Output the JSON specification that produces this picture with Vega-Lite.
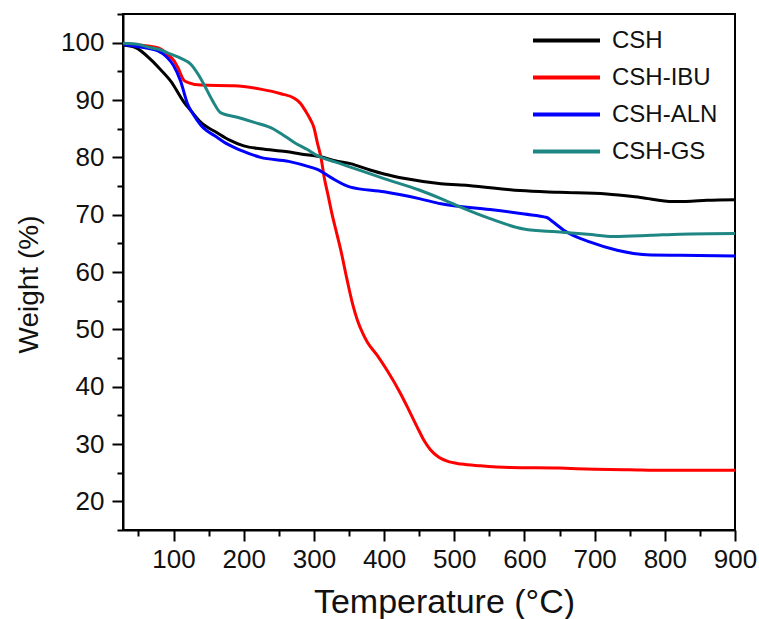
{
  "$schema": "https://vega.github.io/schema/vega-lite/v6.json",
  "width": 612,
  "height": 516,
  "autosize": {"type": "none"},
  "padding": {"left": 123, "top": 14, "right": 24, "bottom": 89},
  "background": "white",
  "config": {
    "view": {"stroke": "black", "strokeWidth": 2},
    "axis": {
      "grid": false,
      "domainColor": "black",
      "domainWidth": 2,
      "tickColor": "black",
      "tickWidth": 2,
      "labelFont": "Liberation Sans",
      "labelColor": "#111",
      "titleFont": "Liberation Sans",
      "titleFontWeight": "normal",
      "titleColor": "#111"
    },
    "legend": {
      "labelFont": "Liberation Sans",
      "labelFontSize": 24,
      "labelColor": "#111"
    }
  },
  "data": {
    "values": [
      {"T": 28, "W": 99.6, "s": "CSH"},
      {"T": 45, "W": 99.2, "s": "CSH"},
      {"T": 68, "W": 97.0, "s": "CSH"},
      {"T": 80, "W": 95.5, "s": "CSH"},
      {"T": 96, "W": 93.3, "s": "CSH"},
      {"T": 115, "W": 89.6, "s": "CSH"},
      {"T": 125, "W": 88.1, "s": "CSH"},
      {"T": 139, "W": 86.1, "s": "CSH"},
      {"T": 162, "W": 84.3, "s": "CSH"},
      {"T": 180, "W": 83.0, "s": "CSH"},
      {"T": 200, "W": 82.0, "s": "CSH"},
      {"T": 224, "W": 81.5, "s": "CSH"},
      {"T": 260, "W": 81.0, "s": "CSH"},
      {"T": 281, "W": 80.6, "s": "CSH"},
      {"T": 314, "W": 80.0, "s": "CSH"},
      {"T": 330, "W": 79.4, "s": "CSH"},
      {"T": 352, "W": 78.9, "s": "CSH"},
      {"T": 380, "W": 77.8, "s": "CSH"},
      {"T": 400, "W": 77.1, "s": "CSH"},
      {"T": 430, "W": 76.3, "s": "CSH"},
      {"T": 481, "W": 75.4, "s": "CSH"},
      {"T": 520, "W": 75.1, "s": "CSH"},
      {"T": 594, "W": 74.2, "s": "CSH"},
      {"T": 650, "W": 73.9, "s": "CSH"},
      {"T": 717, "W": 73.6, "s": "CSH"},
      {"T": 765, "W": 73.0, "s": "CSH"},
      {"T": 812, "W": 72.3, "s": "CSH"},
      {"T": 830, "W": 72.3, "s": "CSH"},
      {"T": 860, "W": 72.5, "s": "CSH"},
      {"T": 900, "W": 72.6, "s": "CSH"},

      {"T": 28, "W": 99.8, "s": "CSH-IBU"},
      {"T": 50, "W": 99.6, "s": "CSH-IBU"},
      {"T": 70, "W": 99.3, "s": "CSH-IBU"},
      {"T": 82, "W": 98.9, "s": "CSH-IBU"},
      {"T": 91, "W": 98.0, "s": "CSH-IBU"},
      {"T": 101, "W": 96.8, "s": "CSH-IBU"},
      {"T": 106, "W": 95.7, "s": "CSH-IBU"},
      {"T": 115, "W": 93.4, "s": "CSH-IBU"},
      {"T": 122, "W": 93.0, "s": "CSH-IBU"},
      {"T": 139, "W": 92.6, "s": "CSH-IBU"},
      {"T": 186, "W": 92.5, "s": "CSH-IBU"},
      {"T": 224, "W": 91.9, "s": "CSH-IBU"},
      {"T": 253, "W": 91.1, "s": "CSH-IBU"},
      {"T": 272, "W": 90.3, "s": "CSH-IBU"},
      {"T": 281, "W": 89.4, "s": "CSH-IBU"},
      {"T": 288, "W": 88.1, "s": "CSH-IBU"},
      {"T": 295, "W": 86.6, "s": "CSH-IBU"},
      {"T": 300, "W": 85.2, "s": "CSH-IBU"},
      {"T": 305, "W": 82.5, "s": "CSH-IBU"},
      {"T": 310, "W": 80.0, "s": "CSH-IBU"},
      {"T": 315, "W": 76.3, "s": "CSH-IBU"},
      {"T": 320, "W": 73.5, "s": "CSH-IBU"},
      {"T": 326, "W": 70.0, "s": "CSH-IBU"},
      {"T": 332, "W": 67.0, "s": "CSH-IBU"},
      {"T": 338, "W": 64.0, "s": "CSH-IBU"},
      {"T": 347, "W": 58.8, "s": "CSH-IBU"},
      {"T": 355, "W": 54.5, "s": "CSH-IBU"},
      {"T": 362, "W": 51.6, "s": "CSH-IBU"},
      {"T": 370, "W": 49.2, "s": "CSH-IBU"},
      {"T": 376, "W": 47.8, "s": "CSH-IBU"},
      {"T": 390, "W": 45.5, "s": "CSH-IBU"},
      {"T": 404, "W": 42.9, "s": "CSH-IBU"},
      {"T": 423, "W": 38.9, "s": "CSH-IBU"},
      {"T": 435, "W": 36.0, "s": "CSH-IBU"},
      {"T": 447, "W": 33.0, "s": "CSH-IBU"},
      {"T": 457, "W": 30.6, "s": "CSH-IBU"},
      {"T": 466, "W": 29.0, "s": "CSH-IBU"},
      {"T": 478, "W": 27.7, "s": "CSH-IBU"},
      {"T": 490, "W": 27.0, "s": "CSH-IBU"},
      {"T": 510, "W": 26.5, "s": "CSH-IBU"},
      {"T": 537, "W": 26.2, "s": "CSH-IBU"},
      {"T": 580, "W": 25.9, "s": "CSH-IBU"},
      {"T": 650, "W": 25.8, "s": "CSH-IBU"},
      {"T": 700, "W": 25.6, "s": "CSH-IBU"},
      {"T": 750, "W": 25.5, "s": "CSH-IBU"},
      {"T": 800, "W": 25.4, "s": "CSH-IBU"},
      {"T": 850, "W": 25.4, "s": "CSH-IBU"},
      {"T": 900, "W": 25.4, "s": "CSH-IBU"},

      {"T": 28, "W": 99.7, "s": "CSH-ALN"},
      {"T": 50, "W": 99.3, "s": "CSH-ALN"},
      {"T": 77, "W": 98.6, "s": "CSH-ALN"},
      {"T": 91, "W": 97.4, "s": "CSH-ALN"},
      {"T": 100, "W": 96.0, "s": "CSH-ALN"},
      {"T": 110, "W": 93.3, "s": "CSH-ALN"},
      {"T": 120, "W": 89.3, "s": "CSH-ALN"},
      {"T": 128, "W": 87.5, "s": "CSH-ALN"},
      {"T": 139, "W": 85.6, "s": "CSH-ALN"},
      {"T": 162, "W": 83.5, "s": "CSH-ALN"},
      {"T": 177, "W": 82.3, "s": "CSH-ALN"},
      {"T": 196, "W": 81.2, "s": "CSH-ALN"},
      {"T": 224, "W": 80.0, "s": "CSH-ALN"},
      {"T": 264, "W": 79.3, "s": "CSH-ALN"},
      {"T": 295, "W": 78.3, "s": "CSH-ALN"},
      {"T": 305, "W": 77.9, "s": "CSH-ALN"},
      {"T": 324, "W": 76.5, "s": "CSH-ALN"},
      {"T": 352, "W": 74.8, "s": "CSH-ALN"},
      {"T": 400, "W": 74.0, "s": "CSH-ALN"},
      {"T": 450, "W": 72.8, "s": "CSH-ALN"},
      {"T": 481, "W": 71.9, "s": "CSH-ALN"},
      {"T": 551, "W": 70.9, "s": "CSH-ALN"},
      {"T": 600, "W": 70.1, "s": "CSH-ALN"},
      {"T": 632, "W": 69.5, "s": "CSH-ALN"},
      {"T": 640, "W": 68.8, "s": "CSH-ALN"},
      {"T": 656, "W": 67.3, "s": "CSH-ALN"},
      {"T": 694, "W": 65.2, "s": "CSH-ALN"},
      {"T": 732, "W": 63.8, "s": "CSH-ALN"},
      {"T": 774, "W": 63.0, "s": "CSH-ALN"},
      {"T": 822, "W": 62.9, "s": "CSH-ALN"},
      {"T": 900, "W": 62.8, "s": "CSH-ALN"},

      {"T": 28, "W": 99.9, "s": "CSH-GS"},
      {"T": 50, "W": 99.7, "s": "CSH-GS"},
      {"T": 68, "W": 99.1, "s": "CSH-GS"},
      {"T": 80, "W": 98.8, "s": "CSH-GS"},
      {"T": 96, "W": 98.0, "s": "CSH-GS"},
      {"T": 110, "W": 97.3, "s": "CSH-GS"},
      {"T": 125, "W": 96.2, "s": "CSH-GS"},
      {"T": 135, "W": 94.5, "s": "CSH-GS"},
      {"T": 143, "W": 92.8, "s": "CSH-GS"},
      {"T": 155, "W": 90.0, "s": "CSH-GS"},
      {"T": 167, "W": 87.8, "s": "CSH-GS"},
      {"T": 191, "W": 87.0, "s": "CSH-GS"},
      {"T": 215, "W": 86.1, "s": "CSH-GS"},
      {"T": 243, "W": 84.9, "s": "CSH-GS"},
      {"T": 255, "W": 84.0, "s": "CSH-GS"},
      {"T": 272, "W": 82.6, "s": "CSH-GS"},
      {"T": 290, "W": 81.4, "s": "CSH-GS"},
      {"T": 305, "W": 80.3, "s": "CSH-GS"},
      {"T": 330, "W": 79.2, "s": "CSH-GS"},
      {"T": 352, "W": 78.3, "s": "CSH-GS"},
      {"T": 400, "W": 76.3, "s": "CSH-GS"},
      {"T": 450, "W": 74.3, "s": "CSH-GS"},
      {"T": 481, "W": 72.8, "s": "CSH-GS"},
      {"T": 509, "W": 71.3, "s": "CSH-GS"},
      {"T": 551, "W": 69.3, "s": "CSH-GS"},
      {"T": 599, "W": 67.5, "s": "CSH-GS"},
      {"T": 646, "W": 67.0, "s": "CSH-GS"},
      {"T": 690, "W": 66.6, "s": "CSH-GS"},
      {"T": 727, "W": 66.2, "s": "CSH-GS"},
      {"T": 780, "W": 66.4, "s": "CSH-GS"},
      {"T": 822, "W": 66.6, "s": "CSH-GS"},
      {"T": 900, "W": 66.7, "s": "CSH-GS"}
    ]
  },
  "mark": {"type": "line", "strokeWidth": 3, "interpolate": "monotone", "clip": true},
  "encoding": {
    "x": {
      "field": "T",
      "type": "quantitative",
      "scale": {"domain": [28, 900], "nice": false, "zero": false},
      "axis": {
        "title": "Temperature (°C)",
        "titleFontSize": 34,
        "labelFontSize": 26,
        "values": [50, 100, 150, 200, 250, 300, 350, 400, 450, 500, 550, 600, 650, 700, 750, 800, 850, 900],
        "labelExpr": "datum.value % 100 === 0 ? datum.label : ''",
        "tickSize": {"condition": {"test": "datum.value % 100 === 0", "value": 11}, "value": 6},
        "labelPadding": 5,
        "labelFlush": false,
        "labelOverlap": false,
        "titleX": 321,
        "titleY": 82,
        "titleBaseline": "alphabetic",
        "titleAnchor": "middle",
        "titleAlign": "center"
      }
    },
    "y": {
      "field": "W",
      "type": "quantitative",
      "scale": {"domain": [15, 105], "nice": false, "zero": false},
      "axis": {
        "title": "Weight (%)",
        "titleFontSize": 28,
        "labelFontSize": 26,
        "values": [15, 20, 25, 30, 35, 40, 45, 50, 55, 60, 65, 70, 75, 80, 85, 90, 95, 100, 105],
        "labelExpr": "datum.value % 10 === 0 ? datum.label : ''",
        "tickSize": {"condition": {"test": "datum.value % 10 === 0", "value": 11}, "value": 6},
        "labelPadding": 8,
        "labelFlush": false,
        "labelOverlap": false,
        "titleX": -94,
        "titleY": 270,
        "titleAlign": "center",
        "titleBaseline": "middle",
        "titleAngle": -90
      }
    },
    "color": {
      "field": "s",
      "type": "nominal",
      "sort": ["CSH", "CSH-IBU", "CSH-ALN", "CSH-GS"],
      "scale": {"domain": ["CSH", "CSH-IBU", "CSH-ALN", "CSH-GS"], "range": ["#000000", "#ff0000", "#0000ff", "#1e8783"]},
      "legend": {
        "title": null,
        "orient": "none",
        "legendX": 408,
        "legendY": 8,
        "symbolType": "stroke",
        "symbolSize": 4489,
        "symbolStrokeWidth": 4,
        "labelOffset": 10,
        "rowPadding": 0,
        "clipHeight": 37,
        "padding": 0
      }
    }
  }
}
